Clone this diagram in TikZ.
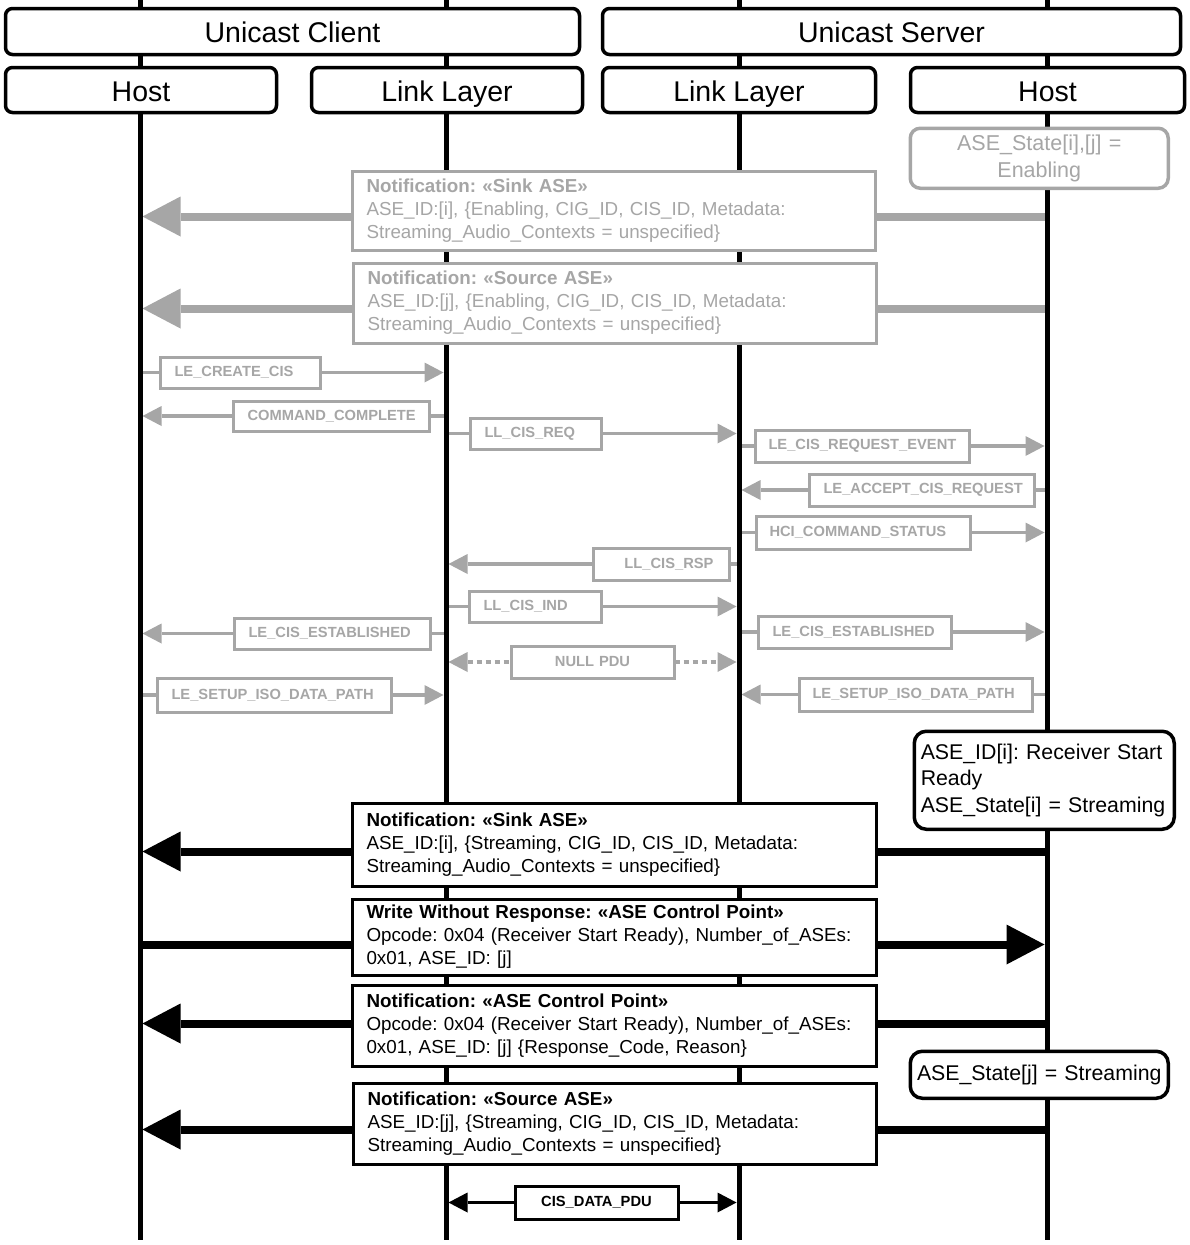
\documentclass[tikz,border=0pt]{standalone}
\usepackage{fontspec}
\setmainfont{Liberation Sans}
\usetikzlibrary{arrows.meta,calc}
\definecolor{lg}{RGB}{166,166,166}
\frenchspacing
\pgfdeclarelayer{arr}
\pgfdeclarelayer{life}
\pgfsetlayers{arr,life,main}
\newcommand\boxmsg[8]{%
 \pgfmathsetmacro\mybw{#5-#3-3}%
 \pgfmathsetmacro\mybh{#6-#4-3}%
 \pgfmathsetmacro\myip{#7-1.5}%
 \pgfmathsetmacro\mytw{\mybw-2*\myip}%
 \node[#1, anchor=north west, minimum height=\mybh pt, text width=\mytw pt, inner xsep=\myip pt, inner ysep=0pt] (#2) at (#3+1.5,#4+1.5) {#8};}
\tikzset{
 hdr/.style={draw, line width=3.5pt, rounded corners=7pt, fill=white, inner sep=0pt, text height=28pt, text depth=6pt, font=\fontsize{28.5}{32}\selectfont},
 gbig/.style={draw=lg, line width=3pt, fill=white, text=lg, align=left, font=\fontsize{18.8}{23}\selectfont},
 bbig/.style={draw=black, line width=3pt, fill=white, text=black, align=left, font=\fontsize{18.8}{23}\selectfont},
 gsm/.style={draw=lg, line width=3pt, fill=white, text=lg, align=left, font=\bfseries\fontsize{14.7}{17}\selectfont},
 bsm/.style={gsm, draw=black, text=black, align=center},
 gstate/.style={draw=lg, line width=3.5pt, rounded corners=10pt, fill=white, text=lg, align=center, font=\fontsize{21.5}{27}\selectfont},
 bstate/.style={draw=black, line width=3.5pt, rounded corners=12pt, fill=white, text=black, align=left, font=\fontsize{21.3}{26.5}\selectfont},
 lifeline/.style={line width=5pt, draw=black},
 garr/.style={draw=lg, line width=3.3pt, shorten >=2.5pt, -{Triangle[length=19pt,width=20pt,line width=0pt]}},
 gdot/.style={draw=lg, line width=3.3pt, dash pattern=on 5pt off 4pt, shorten >=2.5pt, shorten <=2.5pt, {Triangle[length=19pt,width=20pt,line width=0pt]}-{Triangle[length=19pt,width=20pt,line width=0pt]}},
 bdbl/.style={draw=black, line width=3.3pt, shorten >=2.5pt, shorten <=2.5pt, {Triangle[length=19pt,width=20pt,line width=0pt]}-{Triangle[length=19pt,width=20pt,line width=0pt]}},
 gthick/.style={draw=lg, line width=8pt, shorten >=2.5pt, -{Triangle[length=38pt,width=40pt,line width=0pt]}},
 bthick/.style={draw=black, line width=8pt, shorten >=2.5pt, -{Triangle[length=38pt,width=40pt,line width=0pt]}},
}
\begin{document}
\begin{tikzpicture}[x=1pt,y=-1pt]
\useasboundingbox (0,0) rectangle (1189,1245);
% lifeline ends
\coordinate (CHt) at (140,0);  \coordinate (CHb) at (140,1240);
\coordinate (CLt) at (446,0);  \coordinate (CLb) at (446,1240);
\coordinate (SLt) at (739,0);  \coordinate (SLb) at (739,1240);
\coordinate (SHt) at (1047,0); \coordinate (SHb) at (1047,1240);

% headers
\node[hdr, minimum width=574pt, minimum height=46pt] (uc) at (292.5,31.5) {Unicast Client};
\node[hdr, minimum width=578pt, minimum height=46pt] (us) at (891.5,31.5) {Unicast Server};
\node[hdr, minimum width=271pt, minimum height=45pt] (ch) at (141,90) {Host};
\node[hdr, minimum width=271pt, minimum height=45pt] (cl) at (447,90) {Link Layer};
\node[hdr, minimum width=273pt, minimum height=45pt] (sl) at (739,90) {Link Layer};
\node[hdr, minimum width=274pt, minimum height=45pt] (sh) at (1047.5,90) {Host};

% gray part
\boxmsg{gstate}{gst}{907}{125}{1168}{188}{8}{ASE\_State[i],[j] =\\Enabling}
\boxmsg{gbig}{gsink}{349}{168}{875}{250}{16}{\textbf{Notification: «Sink ASE»}\\ASE\_ID:[i], \{Enabling, CIG\_ID, CIS\_ID, Metadata:\\Streaming\_Audio\_Contexts = unspecified\}}
\boxmsg{gbig}{gsrc}{350}{260}{876}{343}{16}{\textbf{Notification: «Source ASE»}\\ASE\_ID:[j], \{Enabling, CIG\_ID, CIS\_ID, Metadata:\\Streaming\_Audio\_Contexts = unspecified\}}

\boxmsg{gsm}{cc1}{157}{354}{320}{388}{16}{LE\_CREATE\_CIS}
\boxmsg{gsm}{cc2}{230}{398}{429}{431}{16}{COMMAND\_COMPLETE}
\boxmsg{gsm}{llreq}{467}{415}{601}{449}{16}{LL\_CIS\_REQ}
\boxmsg{gsm}{reqev}{752}{427}{969}{462}{15}{LE\_CIS\_REQUEST\_EVENT}
\boxmsg{gsm}{accept}{806}{471}{1034}{506}{16}{LE\_ACCEPT\_CIS\_REQUEST}
\boxmsg{gsm}{hci}{753}{513}{970}{549}{15}{HCI\_COMMAND\_STATUS}
\boxmsg{gsm,align=right}{llrsp}{590}{545}{729}{580}{17}{LL\_CIS\_RSP}
\boxmsg{gsm}{llind}{466}{588}{601}{622}{16}{LL\_CIS\_IND}
\boxmsg{gsm}{estc}{231}{615}{430}{649}{16}{LE\_CIS\_ESTABLISHED}
\boxmsg{gsm}{ests}{755}{613}{951}{648}{16}{LE\_CIS\_ESTABLISHED}
\boxmsg{gsm,align=center}{null}{508}{643}{674}{678}{16}{NULL PDU}
\boxmsg{gsm}{isoc}{154}{675}{391}{712}{16}{LE\_SETUP\_ISO\_DATA\_PATH}
\boxmsg{gsm}{isos}{796}{675}{1032}{711}{15}{LE\_SETUP\_ISO\_DATA\_PATH}

% black part
\boxmsg{bstate}{rs}{911}{728}{1174}{829}{8}{ASE\_ID[i]: Receiver Start\\Ready\\ASE\_State[i] = Streaming}
\boxmsg{bbig}{bsink}{349}{800}{876}{886}{16}{\textbf{Notification: «Sink ASE»}\\ASE\_ID:[i], \{Streaming, CIG\_ID, CIS\_ID, Metadata:\\Streaming\_Audio\_Contexts = unspecified\}}
\boxmsg{bbig}{wwr}{349}{896}{876}{975}{16}{\textbf{Write Without Response: «ASE Control Point»}\\Opcode: 0x04 (Receiver Start Ready), Number\_of\_ASEs:\\0x01, ASE\_ID: [j]}
\boxmsg{bbig}{cp}{349}{982}{876}{1066}{16}{\textbf{Notification: «ASE Control Point»}\\Opcode: 0x04 (Receiver Start Ready), Number\_of\_ASEs:\\0x01, ASE\_ID: [j] \{Response\_Code, Reason\}}
\boxmsg{bstate,align=center}{sj}{907}{1048}{1168}{1098}{5}{ASE\_State[j] = Streaming}
\boxmsg{bbig}{bsrc}{350}{1080}{876}{1164}{16}{\textbf{Notification: «Source ASE»}\\ASE\_ID:[j], \{Streaming, CIG\_ID, CIS\_ID, Metadata:\\Streaming\_Audio\_Contexts = unspecified\}}
\boxmsg{bsm}{cisd}{512}{1183}{678}{1219}{16}{CIS\_DATA\_PDU}

% arrow levels for the big messages
\coordinate (t1) at ($(gsink.center)+(0,6)$);
\coordinate (t2) at ($(gsrc.center)+(0,5.5)$);
\coordinate (t3) at ($(bsink.center)+(0,7)$);
\coordinate (t4) at ($(wwr.center)+(0,7.5)$);
\coordinate (t5) at ($(cp.center)+(0,-2)$);
\coordinate (t6) at ($(bsrc.center)+(0,6)$);

\begin{pgfonlayer}{life}
\draw[lifeline] (CHt) -- (CHb);
\draw[lifeline] (CLt) -- (CLb);
\draw[lifeline] (SLt) -- (SLb);
\draw[lifeline] (SHt) -- (SHb);
\end{pgfonlayer}

\begin{pgfonlayer}{arr}
\draw[gthick] (t1 -| SHt) -- (t1 -| CHt);
\draw[gthick] (t2 -| SHt) -- (t2 -| CHt);
\draw[garr] (cc1.center -| CHt) -- (cc1.center -| CLt);
\draw[garr] (cc2.center -| CLt) -- (cc2.center -| CHt);
\draw[garr] (llreq.center -| CLt) -- (llreq.center -| SLt);
\draw[garr] (reqev.center -| SLt) -- (reqev.center -| SHt);
\draw[garr] (accept.center -| SHt) -- (accept.center -| SLt);
\draw[garr] (hci.center -| SLt) -- (hci.center -| SHt);
\draw[garr] (llrsp.center -| SLt) -- (llrsp.center -| CLt);
\draw[garr] (llind.center -| CLt) -- (llind.center -| SLt);
\draw[garr] (estc.center -| CLt) -- (estc.center -| CHt);
\draw[garr] (ests.center -| SLt) -- (ests.center -| SHt);
\draw[gdot] (null.center -| CLt) -- (null.center -| SLt);
\draw[garr] (isoc.center -| CHt) -- (isoc.center -| CLt);
\draw[garr] (isos.center -| SHt) -- (isos.center -| SLt);
\draw[bthick] (t3 -| SHt) -- (t3 -| CHt);
\draw[bthick] (t4 -| CHt) -- (t4 -| SHt);
\draw[bthick] (t5 -| SHt) -- (t5 -| CHt);
\draw[bthick] (t6 -| SHt) -- (t6 -| CHt);
\draw[bdbl] (cisd.center -| CLt) -- (cisd.center -| SLt);
\end{pgfonlayer}
\end{tikzpicture}
\end{document}
